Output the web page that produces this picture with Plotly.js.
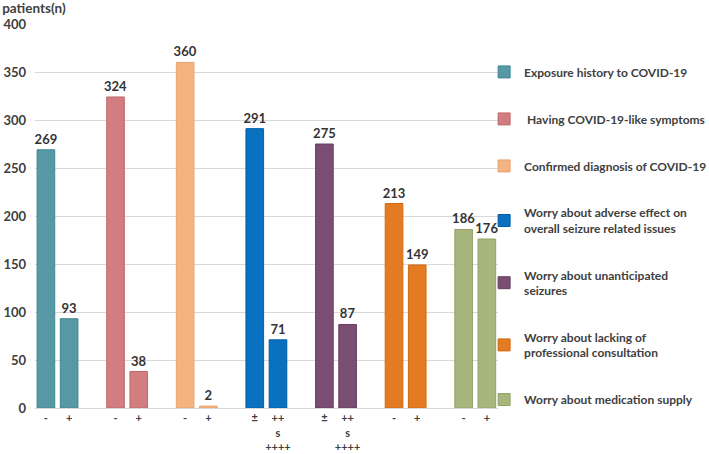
<!DOCTYPE html>
<html>
<head>
<meta charset="utf-8">
<script src="https://cdn.plot.ly/plotly-3.0.1.min.js"></script>
<style>html,body{margin:0;padding:0;background:#fff;}#chart{width:709px;height:454px;}</style>
</head>
<body>
<div id="chart"></div>
<script>
// Data
const seriesNames = [
  "Exposure history to COVID-19",
  " Having COVID-19-like symptoms",
  "Confirmed diagnosis of COVID-19",
  "Worry about adverse effect on<br>overall seizure related issues",
  "Worry about unanticipated<br>seizures",
  "Worry about lacking of<br>professional consultation",
  "Worry about medication supply"
];
const tickLabels = [
  ["-", "+"],
  ["-", "+"],
  ["-", "+"],
  ["±", "++<br>s<br>++++"],
  ["±", "++<br>s<br>++++"],
  ["-", "+"],
  ["-", "+"]
];
const seriesValues = [
  [269, 93],
  [324, 38],
  [360, 2],
  [291, 71],
  [275, 87],
  [213, 149],
  [186, 176]
];
const colors = ["#5698A4", "#D27D80", "#F3B482", "#0A70C0", "#7A4D73", "#E37B22", "#A7B67C"];
const edgeColors = ["#3F8894", "#C06A6D", "#E9A36E", "#005FA8", "#683D62", "#D06A12", "#93A468"];

const slotsPerGroup = 3;
const traces = [];
const tickvals = [], ticktext = [];
seriesValues.forEach((vals, g) => {
  const xs = vals.map((v, j) => g * slotsPerGroup + j);
  xs.forEach((x, j) => { tickvals.push(x); ticktext.push(tickLabels[g][j]); });
  traces.push({
    type: "bar",
    x: xs,
    y: vals,
    name: seriesNames[g],
    legendgroup: "g" + g,
    width: 0.76,
    marker: {color: colors[g], line: {color: edgeColors[g], width: 1}},
    text: vals.map(String),
    textposition: "outside",
    constraintext: "none",
    cliponaxis: false,
    textfont: {family: "Lato, sans-serif", size: 13, color: "#333333", weight: 700},
    hoverinfo: "skip"
  });
});

const layout = {
  width: 709,
  height: 454,
  margin: {l: 35, r: 211, t: 24, b: 46, autoexpand: false},
  paper_bgcolor: "#ffffff",
  plot_bgcolor: "#ffffff",
  font: {family: "Lato, sans-serif", color: "#404040"},
  title: {
    text: "patients(n)",
    x: 0.003, xref: "container", xanchor: "left",
    y: 0.992, yref: "container", yanchor: "top",
    automargin: false,
    font: {family: "Lato, sans-serif", size: 13.5, color: "#404040", weight: 700}
  },
  showlegend: true,
  legend: {
    x: 0.970, xanchor: "left",
    y: 0.913, yanchor: "top",
    tracegroupgap: 28,
    font: {family: "Lato, sans-serif", size: 12, color: "#404040", weight: 700},
    bgcolor: "rgba(0,0,0,0)"
  },
  xaxis: {
    type: "linear",
    range: [-0.47, 19.48],
    tickmode: "array",
    tickvals: tickvals,
    ticktext: ticktext,
    ticks: "",
    showgrid: false,
    zeroline: false,
    showline: true,
    linecolor: "#D9D9D9",
    linewidth: 1,
    automargin: false,
    tickfont: {family: "Lato, sans-serif", size: 11, color: "#404040", weight: 700}
  },
  yaxis: {
    range: [0, 400],
    tickvals: [0, 50, 100, 150, 200, 250, 300, 350, 400],
    showgrid: true,
    gridcolor: "#D9D9D9",
    gridwidth: 1,
    zeroline: false,
    showline: false,
    ticks: "",
    automargin: false,
    ticklabelstandoff: 8,
    tickfont: {family: "Lato, sans-serif", size: 13, color: "#404040", weight: 700}
  },
  bargap: 0
};

Plotly.newPlot("chart", traces, layout, {displayModeBar: false, staticPlot: true});
</script>
</body>
</html>
